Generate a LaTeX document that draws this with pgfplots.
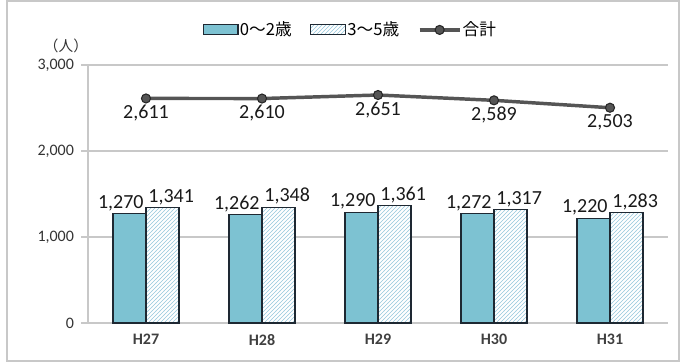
\documentclass[border=0pt]{standalone}
\usepackage{fontspec}
\setmainfont{Carlito}
\newfontfamily\cjk{Noto Sans CJK JP}
\usepackage{pgfplots}
\pgfplotsset{compat=1.18}
\usetikzlibrary{patterns,calc}
\definecolor{barblue}{RGB}{125,194,210}
\definecolor{hatchblue}{RGB}{150,200,220}
\definecolor{edge}{RGB}{30,40,50}
\definecolor{gridgray}{RGB}{200,200,200}
\definecolor{linegray}{RGB}{85,85,85}
\pgfplotsset{
  barleg/.style={legend image code/.code={\draw[##1] (0pt,-3.75pt) rectangle (26pt,3.75pt);}},
  lineleg/.style={legend image code/.code={\draw[##1, mark=none] (0pt,0pt) -- (30pt,0pt); \draw[##1, only marks] plot coordinates {(15pt,0pt)};}},
}
\begin{document}
\begin{tikzpicture}
\begin{axis}[
  name=ax,
  scale only axis, width=435pt, height=193.5pt,
  xmin=-0.5, xmax=4.5, ymin=0, ymax=3000,
  ybar=0pt, bar width=24.75pt,
  xtick={0,1,2,3,4}, xticklabels={H27,H28,H29,H30,H31},
  extra x ticks={-0.5,0.5,1.5,2.5,3.5,4.5}, extra x tick labels={},
  extra x tick style={major tick length=5pt, tick style={gridgray, line width=0.8pt}, grid=none},
  ytick={0,1000,2000,3000},
  ymajorgrids, grid style={gridgray, line width=0.8pt},
  axis x line*=bottom, axis y line*=left,
  axis line style={gridgray, line width=0.8pt, -},
  xtick style={draw=none},
  ytick style={gridgray, line width=0.8pt},
  major tick length=5pt,
  tick align=outside,
  tick label style={font=\fontsize{12}{14}\selectfont, text=black!80},
  xticklabel style={font=\fontsize{12}{14}\selectfont\bfseries, text=black!75},
  yticklabel style={xshift=-2pt},
  /pgf/number format/assume math mode=true,
  /pgf/number format/fixed,
  /pgf/number format/1000 sep={,},
  nodes near coords,
  every node near coord/.append style={font=\fontsize{15}{17}\selectfont, text=black!90, inner sep=1.5pt},
  clip=false,
  legend style={at={(0.453,1.136)}, anchor=center, draw=none, fill=none, legend columns=3,
    font=\cjk\fontsize{12.5}{14}\selectfont, inner sep=0pt,
    /tikz/every even column/.append style={column sep=12pt},
    /tikz/every odd column/.append style={column sep=-1pt}},
  legend cell align=left,
]
\addplot[fill=barblue, draw=edge, line width=0.8pt, barleg,
  nodes near coords style={xshift=-6.5pt}]
  coordinates {(0,1270) (1,1262) (2,1290) (3,1272) (4,1220)};
\addlegendentry{0～2歳}
\addplot[fill=white, draw=edge, line width=0.8pt,
  postaction={pattern=north east lines, pattern color=hatchblue}, barleg,
  nodes near coords style={xshift=6.5pt}]
  coordinates {(0,1341) (1,1348) (2,1361) (3,1317) (4,1283)};
\addlegendentry{3～5歳}
\addplot[sharp plot, draw=linegray, line width=2.6pt, mark=*, mark size=3.4pt,
  mark options={fill=linegray, draw=black!85, line width=0.8pt},
  nodes near coords style={anchor=north, yshift=-3pt}, lineleg]
  coordinates {(0,2611) (1,2610) (2,2651) (3,2589) (4,2503)};
\addlegendentry{合計}
\end{axis}
\node[font=\cjk\fontsize{11}{13}\selectfont, text=black!80] at ($(ax.south west)+(-16.5pt,207.75pt)$) {（人）};
\draw[gridgray, line width=0.8pt] ($(ax.south west)+(-60.75pt,-28.5pt)$) rectangle ($(ax.south east)+(8.25pt,241.5pt)$);
\pgfresetboundingbox
\useasboundingbox ($(ax.south west)+(-66pt,-30pt)$) rectangle ($(ax.south east)+(12pt,242.25pt)$);
\end{tikzpicture}
\end{document}
